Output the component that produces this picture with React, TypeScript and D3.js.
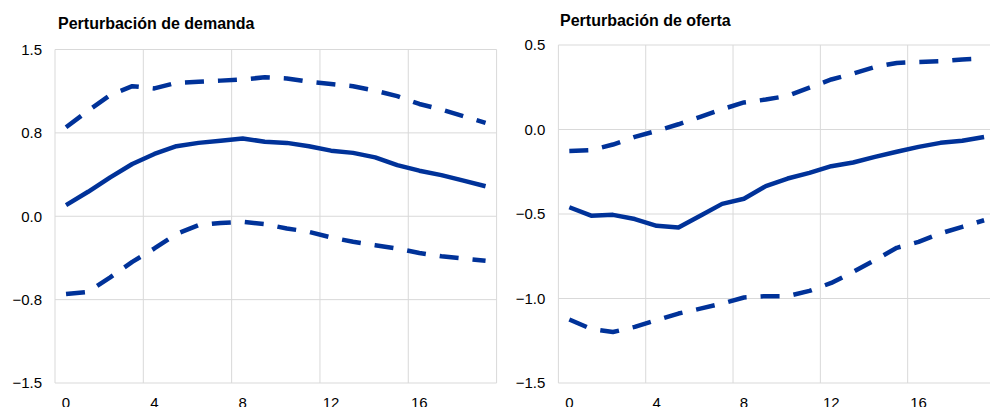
import * as d3 from 'd3'
import React from 'react'

// horizons 0..19
const periods = d3.range(0, 20)
const xTickLabels = [0, 4, 8, 12, 16]

// demand shock
const demandMid = [0.1, 0.22, 0.35, 0.47, 0.56, 0.63, 0.66, 0.68, 0.7, 0.67, 0.66, 0.63, 0.59, 0.57, 0.53, 0.46, 0.41, 0.37, 0.32, 0.27]
const demandUp = [0.8, 0.95, 1.09, 1.17, 1.15, 1.2, 1.21, 1.22, 1.23, 1.25, 1.24, 1.21, 1.19, 1.17, 1.13, 1.08, 1.01, 0.96, 0.9, 0.84]
const demandLow = [-0.7, -0.68, -0.55, -0.41, -0.29, -0.16, -0.08, -0.06, -0.05, -0.07, -0.11, -0.14, -0.19, -0.23, -0.26, -0.29, -0.33, -0.36, -0.38, -0.4]
const demandTicks = [-1.5, -0.75, 0, 0.75, 1.5]

// supply shock
const supplyMid = [-0.46, -0.51, -0.505, -0.53, -0.57, -0.58, -0.51, -0.44, -0.41, -0.335, -0.29, -0.257, -0.217, -0.195, -0.162, -0.132, -0.103, -0.079, -0.067, -0.044]
const supplyUp = [-0.127, -0.122, -0.089, -0.044, -0.008, 0.031, 0.075, 0.12, 0.16, 0.177, 0.199, 0.248, 0.296, 0.331, 0.37, 0.394, 0.4, 0.404, 0.414, 0.42]
const supplyLow = [-1.124, -1.18, -1.198, -1.168, -1.128, -1.089, -1.06, -1.03, -0.994, -0.986, -0.986, -0.955, -0.908, -0.843, -0.773, -0.7, -0.665, -0.615, -0.576, -0.537]
const supplyTicks = [-1.5, -1, -0.5, 0, 0.5]

const BLUE = '#003299'
const GRID = '#d9d9d9'
const FONT = 'Liberation Sans, Arial, sans-serif'

type PanelProps = {
  title: string
  titleX: number
  titleY: number
  left: number
  right: number
  top: number
  bottom: number
  ticks: number[]
  mid: number[]
  up: number[]
  low: number[]
}

function Panel(p: PanelProps) {
  const x = d3.scaleBand<number>().domain(periods).range([p.left, p.right]).paddingInner(0).paddingOuter(0)
  const y = d3.scaleLinear().domain([p.ticks[0], p.ticks[p.ticks.length - 1]]).range([p.bottom, p.top])
  const cx = (i: number) => (x(i) as number) + x.bandwidth() / 2
  const line = d3.line<number>().x((_, i) => cx(periods[i])).y(d => y(d))
  const fmt = d3.format('.1f')

  return (
    <g>
      <text x={p.titleX} y={p.titleY} fontFamily={FONT} fontSize={16} fontWeight="bold" fill="#000">
        {p.title}
      </text>
      {/* grid */}
      {p.ticks.map(t => (
        <line key={'h' + t} x1={p.left} x2={p.right} y1={y(t)} y2={y(t)} stroke={GRID} strokeWidth={1} />
      ))}
      {xTickLabels.map(t => (
        <line key={'v' + t} x1={x(t)} x2={x(t)} y1={p.top} y2={p.bottom} stroke={GRID} strokeWidth={1} />
      ))}
      <line x1={p.right} x2={p.right} y1={p.top} y2={p.bottom} stroke={GRID} strokeWidth={1} />
      {/* y labels */}
      {p.ticks.map(t => (
        <text key={'yl' + t} x={p.left - 13} y={y(t)} dy="0.35em" textAnchor="end" fontFamily={FONT} fontSize={15} fill="#000">
          {fmt(t)}
        </text>
      ))}
      {/* x labels */}
      {xTickLabels.map(t => (
        <text key={'xl' + t} x={cx(t)} y={p.bottom + 24.5} textAnchor="middle" fontFamily={FONT} fontSize={15} fill="#000">
          {t}
        </text>
      ))}
      <path d={line(p.up) as string} fill="none" stroke={BLUE} strokeWidth={4.5} strokeDasharray="19,14" strokeLinejoin="round" />
      <path d={line(p.low) as string} fill="none" stroke={BLUE} strokeWidth={4.5} strokeDasharray="19,14" strokeLinejoin="round" />
      <path d={line(p.mid) as string} fill="none" stroke={BLUE} strokeWidth={4.5} strokeLinejoin="round" />
    </g>
  )
}

export default function App() {
  return (
    <svg width={990} height={407} style={{ position: 'absolute', left: 0, top: 0, background: '#fff' }}>
      <rect width={990} height={407} fill="#fff" />
      <Panel
        title="Perturbación de demanda"
        titleX={58}
        titleY={29}
        left={55}
        right={496.6}
        top={49.5}
        bottom={383}
        ticks={demandTicks}
        mid={demandMid}
        up={demandUp}
        low={demandLow}
      />
      <Panel
        title="Perturbación de oferta"
        titleX={560}
        titleY={26}
        left={558.4}
        right={995}
        top={45}
        bottom={383}
        ticks={supplyTicks}
        mid={supplyMid}
        up={supplyUp}
        low={supplyLow}
      />
    </svg>
  )
}
